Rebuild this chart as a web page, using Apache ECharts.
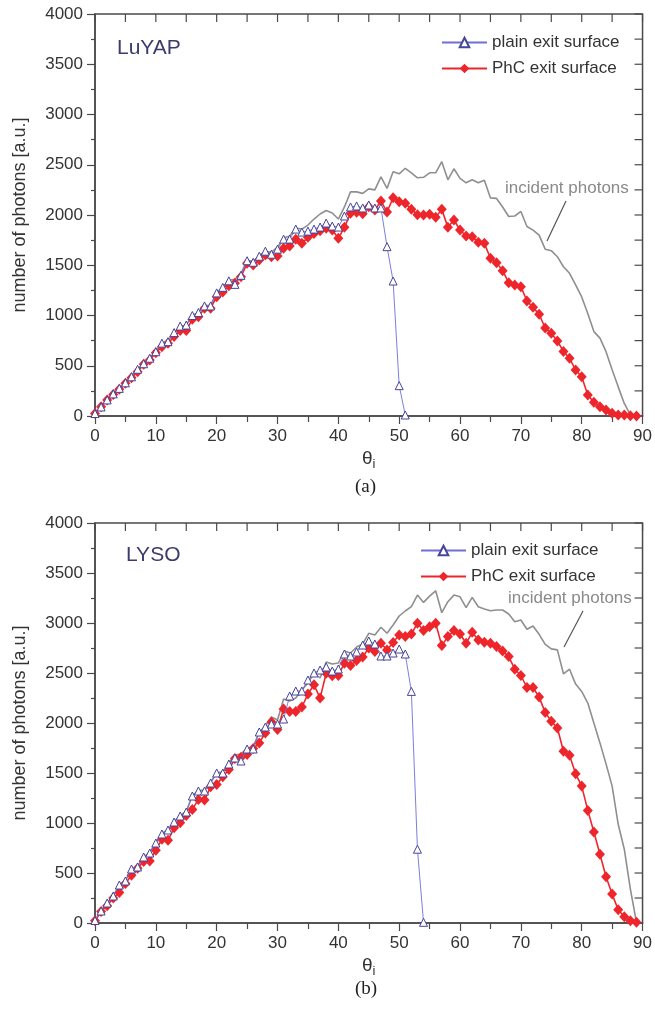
<!DOCTYPE html>
<html>
<head>
<meta charset="utf-8" />
<script src="https://cdn.jsdelivr.net/npm/echarts@6/dist/echarts.min.js"></script>
<style>
  html, body { margin: 0; padding: 0; background: #fff; }
  #main { width: 655px; height: 1011px; }
</style>
</head>
<body>
<div id="main"></div>
<script type="text/javascript">
// incidence angle, degrees
var angles = [];
for (var a = 0; a < 90; a++) angles.push(a);

// (a) LuYAP
var luyapPlain = [25,90,160,220,275,330,390,465,520,575,
    640,725,740,830,895,905,1000,1030,1095,1095,
    1225,1280,1345,1310,1400,1545,1530,1590,1640,1610,
    1660,1760,1760,1860,1830,1840,1860,1880,1920,1890,
    1880,1990,2080,2090,2070,2100,2070,2070,1685,1343,
    302,10];
var luyapPhC = [25,93,160,215,265,325,380,440,514,557,
    630,690,723,790,850,850,962,988,1071,1071,
    1187,1234,1297,1320,1386,1519,1502,1552,1602,1585,
    1592,1668,1691,1758,1718,1778,1817,1844,1867,1851,
    1768,1877,2017,2027,2013,2083,2050,2139,2030,2172,
    2133,2116,2056,2003,2000,2007,1977,2056,1877,1950,
    1851,1791,1784,1728,1718,1569,1526,1446,1327,1303,
    1287,1144,1081,1012,876,823,746,643,574,458,
    391,209,136,93,60,27,10,10,3,0];
var luyapIncident = [25,95,165,225,280,335,395,465,525,580,
    645,725,750,830,890,905,1000,1030,1100,1100,
    1230,1280,1350,1360,1420,1550,1540,1595,1640,1630,
    1680,1770,1790,1870,1860,1900,1960,2010,2045,2020,
    1960,2080,2230,2230,2215,2260,2250,2380,2265,2430,
    2410,2465,2420,2370,2375,2420,2420,2530,2350,2460,
    2365,2320,2350,2320,2345,2170,2165,2080,1985,1990,
    2035,1885,1850,1800,1660,1645,1585,1485,1420,1305,
    1185,1020,840,775,640,460,290,125,10,0];

// (b) LYSO
var lysoPlain = [25,120,200,270,380,420,540,560,660,700,
    800,890,930,1010,1070,1110,1270,1320,1320,1400,
    1500,1500,1590,1650,1620,1740,1740,1910,1960,1990,
    1990,2040,2270,2320,2320,2430,2500,2530,2560,2520,
    2540,2690,2670,2710,2780,2820,2790,2670,2670,2700,
    2740,2690,2316,738,7];
var lysoPhC = [23,116,173,249,306,395,478,548,615,621,
    728,837,827,953,1003,1076,1136,1236,1229,1362,
    1385,1462,1535,1645,1658,1684,1744,1801,1900,2010,
    1934,2140,2116,2116,2160,2289,2382,2249,2498,2472,
    2475,2598,2575,2625,2660,2750,2714,2797,2731,2804,
    2880,2864,2890,2997,2924,2963,2997,2774,2864,2924,
    2890,2797,2907,2831,2807,2797,2764,2721,2664,2538,
    2475,2355,2355,2259,2106,2017,1950,1718,1678,1492,
    1369,1126,910,688,462,289,133,63,23,7];
var lysoIncident = [25,120,200,270,380,425,540,565,660,705,
    805,895,935,1015,1075,1115,1275,1325,1330,1405,
    1505,1510,1600,1680,1690,1750,1760,1910,1970,2060,
    2030,2240,2220,2250,2330,2400,2500,2450,2610,2590,
    2600,2720,2700,2760,2790,2897,2880,2957,2897,2980,
    3070,3120,3163,3279,3206,3269,3322,3103,3213,3279,
    3262,3153,3256,3163,3140,3123,3130,3130,3090,3013,
    3030,2937,2970,2887,2787,2741,2731,2492,2538,2389,
    2316,2199,2000,1801,1591,1369,987,738,339,7];

var xTicks = [0, 90, 10];
var yTicks = [0, 4000, 500];
var topTickStep = 5, rightTickStep = 250;

var axisColor = '#4a4a4a';
var textColor = '#333';
var font = 'Liberation Sans, Arial, sans-serif';

function pairs(vals) {
    return vals.map(function (v, i) { return [angles[i], v]; });
}

var grids = [
    { left: 95, top: 14, width: 550, height: 402, show: true, borderColor: axisColor, borderWidth: 1.5 },
    { left: 95, top: 523, width: 550, height: 400, show: true, borderColor: axisColor, borderWidth: 1.5 }
];

var tickLine = { color: axisColor, width: 1.2 };
var xAxes = [], yAxes = [];
grids.forEach(function (g, gi) {
    xAxes.push({
        gridIndex: gi, type: 'value', position: 'bottom', min: xTicks[0], max: xTicks[1], interval: xTicks[2],
        name: '{t|θ}{s|i}', nameLocation: 'middle', nameGap: 30,
        nameTextStyle: { rich: {
            t: { fontSize: 19, color: textColor, fontFamily: font },
            s: { fontSize: 13, color: textColor, fontFamily: font, verticalAlign: 'bottom', padding: [12, 0, 0, 0] }
        } },
        axisLine: { show: true, onZero: false, lineStyle: { color: axisColor, width: 1.5 } },
        axisTick: { show: true, inside: false, length: 8, lineStyle: tickLine },
        minorTick: { show: true, splitNumber: 2, length: 6, lineStyle: tickLine },
        axisLabel: { fontSize: 17, color: textColor, fontFamily: font, margin: 12 },
        splitLine: { show: false }
    });
    yAxes.push({
        gridIndex: gi, type: 'value', position: 'left', min: yTicks[0], max: yTicks[1], interval: yTicks[2],
        name: 'number of photons [a.u.]', nameLocation: 'middle', nameGap: 66,
        nameTextStyle: { fontSize: 18, color: textColor, fontFamily: font },
        axisLine: { show: true, onZero: false, lineStyle: { color: axisColor, width: 1.5 } },
        axisTick: { show: true, inside: false, length: 8, lineStyle: tickLine },
        minorTick: { show: true, splitNumber: 2, length: 4, lineStyle: tickLine },
        axisLabel: { fontSize: 17, color: textColor, fontFamily: font, margin: 12,
            formatter: function (v) { return String(v); } },
        splitLine: { show: false }
    });
});

function incidentSeries(vals, gi) {
    return {
        name: 'incident photons', type: 'line', xAxisIndex: gi, yAxisIndex: gi,
        data: pairs(vals), showSymbol: false, symbol: 'none', silent: true, z: 1,
        lineStyle: { color: '#8f8f8f', width: 1.6 }
    };
}
function plainSeries(vals, gi) {
    return {
        name: 'plain exit surface', type: 'line', xAxisIndex: gi, yAxisIndex: gi,
        data: pairs(vals), symbol: 'triangle', symbolSize: 8, z: 3,
        itemStyle: { color: '#ffffff', borderColor: '#45459a', borderWidth: 1 },
        lineStyle: { color: '#6f6fd6', width: 0.9 }
    };
}
function phcSeries(vals, gi) {
    return {
        name: 'PhC exit surface', type: 'line', xAxisIndex: gi, yAxisIndex: gi,
        data: pairs(vals), symbol: 'diamond', symbolSize: [10, 11], z: 2,
        itemStyle: { color: '#ee262c' },
        lineStyle: { color: '#ee262c', width: 1.6 }
    };
}

function legendAt(left, top) {
    return {
        left: left, top: top, orient: 'vertical', itemWidth: 45, itemHeight: 12, itemGap: 9,
        selectedMode: false,
        data: ['plain exit surface', 'PhC exit surface'],
        textStyle: { fontSize: 17, color: textColor, fontFamily: font }
    };
}

function label(text, left, top, size, color, family) {
    return { type: 'text', left: left, top: top,
        style: { text: text, fontSize: size, fill: color, fontFamily: family || font } };
}
function seg(x1, y1, x2, y2, color, w) {
    return { type: 'line', silent: true, shape: { x1: x1, y1: y1, x2: x2, y2: y2 },
        style: { stroke: color, lineWidth: w } };
}

var myChart = echarts.init(document.getElementById('main'), null, { renderer: 'canvas' });
var graphics = [
    label('LuYAP', 117, 38, 21, '#3c3c6c'),
    label('LYSO', 126, 545, 21, '#3c3c6c'),
    label('incident photons', 505, 180, 17, '#8a8a8a'),
    label('incident photons', 508, 590, 17, '#8a8a8a'),
    seg(566, 201, 547, 241, '#555', 1.2),
    seg(583, 611, 564, 647, '#555', 1.2),
    label('(a)', 355, 478, 19, '#222', 'Liberation Serif, Times New Roman, serif'),
    label('(b)', 355, 980, 19, '#222', 'Liberation Serif, Times New Roman, serif')
];
var option = {
    animation: false,
    backgroundColor: '#fff',
    grid: grids,
    xAxis: xAxes,
    yAxis: yAxes,
    legend: [legendAt(436, 29), legendAt(415, 537)],
    series: [
        incidentSeries(luyapIncident, 0), phcSeries(luyapPhC, 0), plainSeries(luyapPlain, 0),
        incidentSeries(lysoIncident, 1), phcSeries(lysoPhC, 1), plainSeries(lysoPlain, 1)
    ],
    graphic: graphics
};
myChart.setOption(option);

// mirrored ticks on the top and right frame edges, placed through the axes' own scales
grids.forEach(function (g, gi) {
    var finder = { xAxisIndex: gi, yAxisIndex: gi };
    for (var x = xTicks[0]; x <= xTicks[1]; x += topTickStep) {
        var pt = myChart.convertToPixel(finder, [x, yTicks[1]]);
        graphics.push(seg(pt[0], pt[1], pt[0], pt[1] + 8, axisColor, 1.2));
    }
    for (var y = yTicks[0]; y <= yTicks[1]; y += rightTickStep) {
        var pr = myChart.convertToPixel(finder, [xTicks[1], y]);
        graphics.push(seg(pr[0], pr[1], pr[0] - 8, pr[1], axisColor, 1.2));
    }
});
myChart.setOption({ graphic: graphics });
</script>
</body>
</html>
